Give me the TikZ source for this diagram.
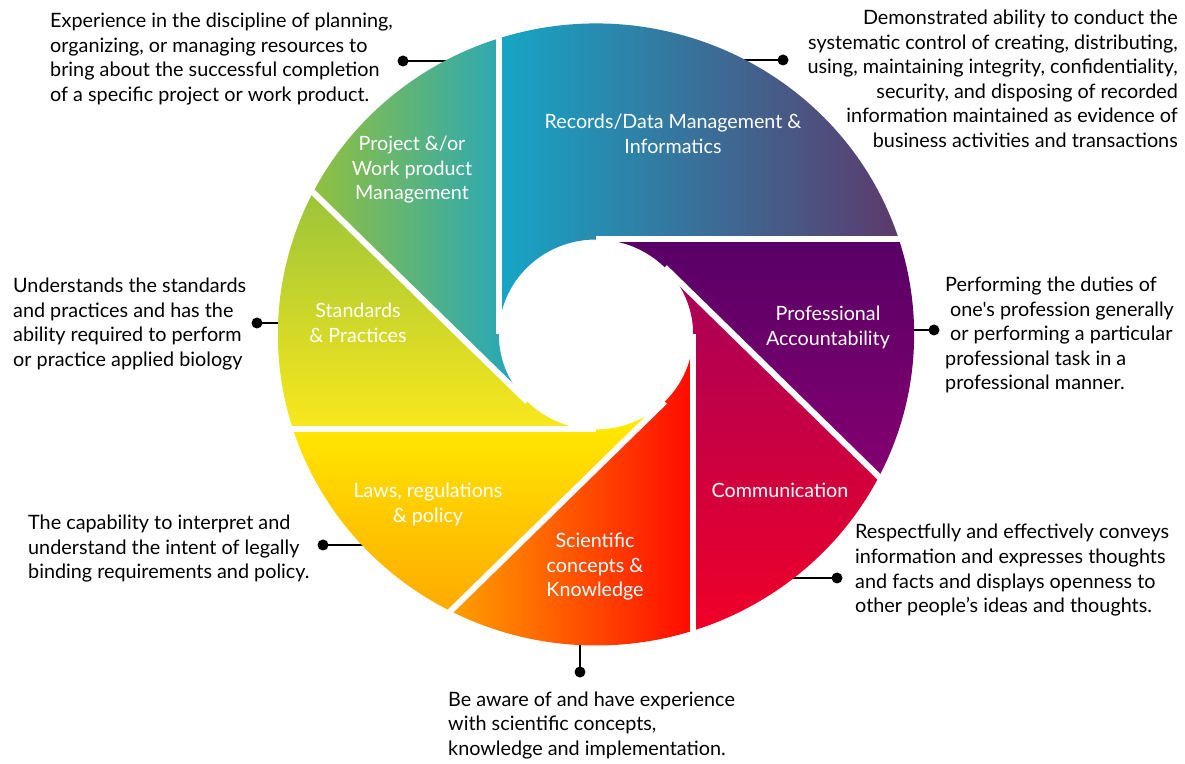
\documentclass[tikz,border=0pt]{standalone}
\usepackage{fontspec}
\newfontfamily\lato{Lato}
\definecolor{recA}{RGB}{22,166,198}
\definecolor{recB}{RGB}{92,58,108}
\definecolor{proA}{RGB}{88,0,102}
\definecolor{proB}{RGB}{132,0,112}
\definecolor{comA}{RGB}{165,0,90}
\definecolor{comB}{RGB}{240,0,40}
\definecolor{sciA}{RGB}{255,160,0}
\definecolor{sciB}{RGB}{255,10,0}
\definecolor{lawA}{RGB}{255,240,0}
\definecolor{lawB}{RGB}{255,170,0}
\definecolor{staA}{RGB}{155,196,58}
\definecolor{staB}{RGB}{250,232,28}
\definecolor{prjA}{RGB}{145,192,62}
\definecolor{prjB}{RGB}{30,165,195}
\begin{document}
\begin{tikzpicture}[x=1pt,y=1pt,
  desc/.style={font=\lato\fontsize{19.8}{24.5}\selectfont, inner sep=0pt, text=black},
  lab/.style={font=\lato\fontsize{19.7}{24.5}\selectfont, inner sep=0pt, text=white, align=center, anchor=base},
  dot/.style={circle, fill=black, inner sep=0pt, minimum size=11pt},
  conn/.style={line width=2.2pt, black},
  gap/.style={white, line width=6pt},
  bladepath/.style 2 args={insert path={({#1}:\rr) -- ({#1-\of}:\RR) arc[start angle={#1-\of}, end angle={#2-\of}, radius=\RR] -- ({#2}:\rr) arc[start angle={#2}, end angle={#1}, radius=\rr] -- cycle}}]
\useasboundingbox (0,0) rectangle (1185,763);
\fill[white] (0,0) rectangle (1185,763);

% connectors (drawn first, ends hidden under the blades)
\node[dot] (d1) at (403,702) {}; \coordinate (e1) at (452,702);
\node[dot] (d2) at (783,703) {}; \coordinate (e2) at (740,703);
\node[dot] (d3) at (257,440) {}; \coordinate (e3) at (292,440);
\node[dot] (d4) at (934,433) {}; \coordinate (e4) at (900,433);
\node[dot] (d5) at (323,218) {}; \coordinate (e5) at (372,218);
\node[dot] (d6) at (837,185) {}; \coordinate (e6) at (785,185);
\node[dot] (d7) at (580,91) {};  \coordinate (e7) at (580,128);
\foreach \i in {1,...,7} \draw[conn] (d\i.center) -- (e\i);

% blades
\begin{scope}[shift={(596,428.5)}, xscale=1.023]
\def\rr{95}\def\RR{311}\def\of{72.21}
\shade[bladepath={90}{180}, left color=recA, right color=recB];
\shade[bladepath={45}{90}, top color=proA, bottom color=proB];
\shade[bladepath={0}{45}, top color=comA, bottom color=comB];
\shade[bladepath={315}{360}, left color=sciA, right color=sciB];
\shade[bladepath={270}{315}, top color=lawA, bottom color=lawB];
\shade[bladepath={225}{270}, top color=staA, bottom color=staB];
\shade[bladepath={180}{225}, left color=prjA, right color=prjB];
\foreach \a in {0,45,90,180,225,270,315}
  \draw[gap] (\a:\rr) -- ++({\a-90}:300);
\end{scope}

% labels (anchor = baseline of the last line)
\node[lab] (lrec) at (673,609.5) {Records/Data Management \&\\Informatics};
\node[lab] (lprj) at (412,563) {Project \&/or\\Work product\\Management};
\node[lab] (lsta) at (358,420.5) {Standards\\\& Practices};
\node[lab] (lpro) at (828,417.5) {Professional\\Accountability};
\node[lab] (lcom) at (780,265.5) {Communication};
\node[lab] (llaw) at (428,240.5) {Laws, regulations\\\& policy};
\node[lab] (lsci) at (595,166) {Scientific\\concepts \&\\Knowledge};

% descriptions (anchor = baseline of the last line)
\node[desc, align=left, anchor=base west] (t1) at (50,661.5) {Experience in the discipline of planning,\\organizing, or managing resources to\\bring about the successful completion\\of a specific project or work product.};
\node[desc, align=right, anchor=base east] (t2) at (1178,615.5) {Demonstrated ability to conduct the\\systematic control of creating, distributing,\\using, maintaining integrity, confidentiality,\\security, and disposing of recorded\\information maintained as evidence of\\business activities and transactions};
\node[desc, align=left, anchor=base west] (t3) at (13,396.5) {Understands the standards\\and practices and has the\\ability required to perform\\or practice applied biology};
\node[desc, align=left, anchor=base west] (t4) at (945,373) {Performing the duties of\\\hspace*{5pt}one's profession generally\\\hspace*{5pt}or performing a particular\\professional task in a\\professional manner.};
\node[desc, align=left, anchor=base west] (t5) at (28,184) {The capability to interpret and\\understand the intent of legally\\binding requirements and policy.};
\node[desc, align=left, anchor=base west] (t6) at (855,150.5) {Respectfully and effectively conveys\\information and expresses thoughts\\and facts and displays openness to\\other people’s ideas and thoughts.};
\node[desc, align=left, anchor=base west] (t7) at (448,8) {Be aware of and have experience\\with scientific concepts,\\knowledge and implementation.};
\end{tikzpicture}
\end{document}
